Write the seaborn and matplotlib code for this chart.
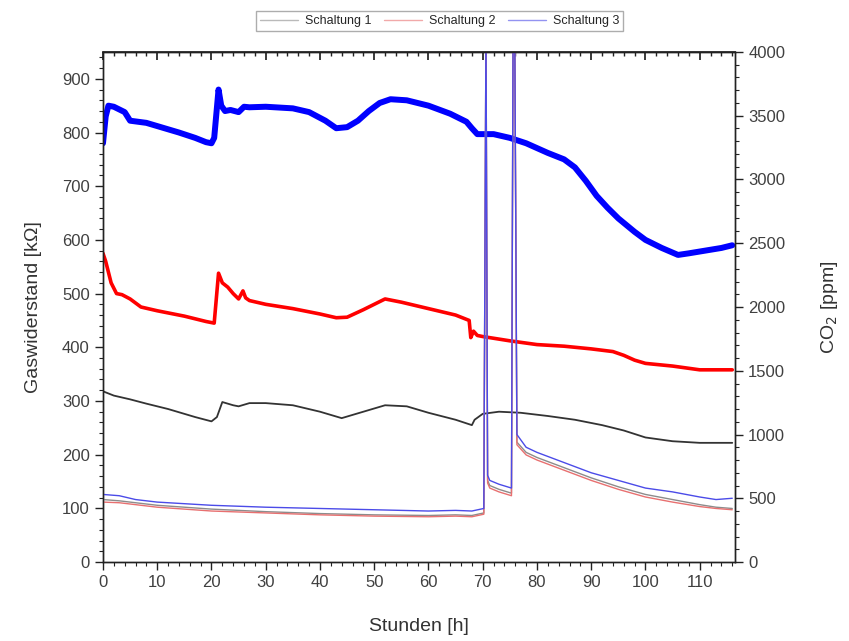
import numpy as np
import pandas as pd
import matplotlib
matplotlib.use("Agg")
import matplotlib.pyplot as plt
import seaborn as sns
from matplotlib.ticker import MultipleLocator

# Gaswiderstand (dicke Linien, linke Achse) in kOhm
t_blue = [0, 0.5, 1, 2, 3, 4, 5, 8, 10, 14, 17, 19, 20, 20.5, 21.3, 21.8, 22.5, 23.5, 25, 26, 27,
          30, 35, 38, 41, 43, 45, 47, 49, 51, 53, 56, 60, 64, 67, 68, 69, 72, 75, 78, 82, 85, 87,
          89, 91, 93, 95, 98, 100, 103, 106, 108, 111, 114, 116]
r_blue = [780, 830, 850, 848, 843, 838, 822, 818, 812, 800, 790, 782, 780, 790, 880, 850, 840, 842,
          838, 848, 847, 848, 845, 838, 822, 808, 810, 822, 840, 855, 862, 860, 850, 835, 820, 808,
          797, 797, 790, 780, 762, 750, 735, 710, 682, 660, 640, 615, 600, 585, 572, 575, 580, 585, 590]

t_red = [0, 0.5, 1.5, 2.5, 3.5, 5, 7, 10, 15, 19, 20.5, 21.3, 22, 23, 24, 25, 25.8, 26.3, 27, 30,
         35, 40, 43, 45, 48, 52, 55, 60, 65, 67.5, 67.8, 68.3, 69, 70, 75, 80, 85, 90, 94, 96, 98,
         100, 105, 110, 116]
r_red = [575, 560, 520, 500, 498, 490, 475, 468, 458, 448, 445, 538, 520, 512, 500, 490, 505, 492,
         487, 480, 472, 462, 455, 456, 470, 490, 484, 472, 460, 450, 418, 430, 422, 420, 412, 405,
         402, 397, 392, 385, 376, 370, 365, 358, 358]

t_black = [0, 2, 5, 8, 12, 17, 20, 21, 22, 24, 25, 27, 30, 35, 40, 44, 48, 52, 56, 60, 65, 68, 68.5,
           70, 73, 77, 82, 87, 92, 96, 100, 105, 110, 116]
r_black = [318, 310, 303, 295, 285, 270, 262, 270, 298, 292, 290, 296, 296, 292, 280, 268, 280, 292,
           290, 278, 265, 255, 265, 276, 280, 278, 272, 265, 255, 245, 232, 225, 222, 222]

# CO2 (duenne Linien, rechte Achse) in ppm
t_co2 = [0, 3, 6, 10, 20, 30, 40, 50, 60, 65, 68, 70.2, 70.6, 70.9, 71.3, 73, 75.3, 75.6, 75.9,
         76.3, 78, 80, 85, 90, 95, 100, 105, 110, 113, 116]
co2_s1 = [490, 480, 465, 445, 415, 395, 380, 370, 365, 370, 365, 385, 4200, 640, 600, 570, 540,
          4200, 4200, 940, 860, 820, 740, 660, 590, 530, 490, 450, 430, 420]
co2_s2 = [470, 465, 450, 430, 400, 385, 370, 360, 355, 360, 355, 375, 4200, 620, 580, 550, 520,
          4200, 4200, 920, 840, 800, 720, 640, 570, 510, 470, 435, 420, 410]
co2_s3 = [530, 520, 490, 470, 445, 430, 420, 410, 400, 405, 400, 420, 4200, 680, 640, 610, 580,
          4200, 4200, 1000, 900, 860, 780, 700, 640, 580, 550, 510, 490, 500]

legend_labels = ["Schaltung 1", "Schaltung 2", "Schaltung 3"]

sns.set_theme(style="ticks")
plt.rcParams['font.family'] = ['Liberation Sans', 'DejaVu Sans']

fig = plt.figure(figsize=(8.49, 6.41), dpi=100)
ax = fig.add_axes([0.1213, 0.1232, 0.7444, 0.7957])
ax2 = ax.twinx()

sns.lineplot(x=t_black, y=r_black, ax=ax, color="#333333", linewidth=1.3, estimator=None, sort=False)
sns.lineplot(x=t_red, y=r_red, ax=ax, color="#ff0000", linewidth=2.6, estimator=None, sort=False)
sns.lineplot(x=t_blue, y=r_blue, ax=ax, color="#0000ff", linewidth=4.3, estimator=None, sort=False)

co2_colors = ["#8c8c8c", "#e87070", "#4b4be8"]
handles = []
for vals, col, lab in zip([co2_s1, co2_s2, co2_s3], co2_colors, legend_labels):
    sns.lineplot(x=t_co2, y=vals, ax=ax2, color=col, linewidth=1.0, estimator=None, sort=False)
    handles.append(ax2.get_lines()[-1])

ax.set_xlim(0, 116.5)
ax.set_ylim(0, 950)
ax2.set_ylim(0, 4000)

ax.xaxis.set_major_locator(MultipleLocator(10))
ax.xaxis.set_minor_locator(MultipleLocator(2))
ax.yaxis.set_major_locator(MultipleLocator(100))
ax.yaxis.set_minor_locator(MultipleLocator(20))
ax2.yaxis.set_major_locator(MultipleLocator(500))
ax2.yaxis.set_minor_locator(MultipleLocator(100))

tc = "#404040"
for a in (ax, ax2):
    a.tick_params(which="major", length=6, width=1, direction="out", labelsize=12, colors="#222222",
                  labelcolor=tc)
    a.tick_params(which="minor", length=3, width=0.8, direction="out", colors="#222222")
    for s in a.spines.values():
        s.set_color("#222222")
        s.set_linewidth(1)
    a.grid(False)

top = ax.secondary_xaxis('top')
top.xaxis.set_major_locator(MultipleLocator(10))
top.xaxis.set_minor_locator(MultipleLocator(2))
top.tick_params(which="major", direction="in", length=6, labeltop=False, colors="#222222")
top.tick_params(which="minor", direction="in", length=3, colors="#222222")

ax.set_xlabel("Stunden [h]", fontsize=14, color="#333333", labelpad=20)
ax.set_ylabel("Gaswiderstand [kΩ]", fontsize=14, color="#333333", labelpad=14)
ax2.set_ylabel("CO$_2$ [ppm]", fontsize=14, color="#333333", labelpad=24)

leg = fig.legend(handles, legend_labels, loc="center", bbox_to_anchor=(0.518, 0.967), ncol=3,
                 fontsize=9, frameon=True, fancybox=False, edgecolor="#999999",
                 handlelength=3, columnspacing=1.0, handletextpad=0.6, borderpad=0.3)
for h in leg.get_lines():
    h.set_linewidth(1)
    h.set_alpha(0.6)

fig.savefig("out.png", dpi=100)
